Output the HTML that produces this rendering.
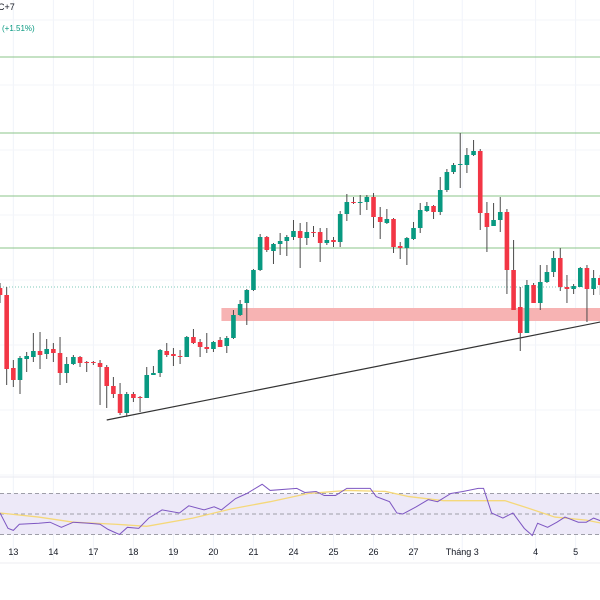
<!DOCTYPE html>
<html><head><meta charset="utf-8"><style>
html,body{margin:0;padding:0;background:#fff;}
svg{display:block;font-family:"Liberation Sans","Noto Sans CJK JP",sans-serif;}
</style></head><body>
<svg id="chart" width="600" height="600" viewBox="0 0 600 600" xmlns="http://www.w3.org/2000/svg">
<rect width="600" height="600" fill="#fff"/>
<g id="grid"></g>
<g id="levels"></g>
<g id="candles"></g>
<g id="rsi"></g>
<g id="axis"></g>
<text x="-2" y="10" font-size="9" fill="#131722">C+7</text>
<text x="2" y="31" font-size="8" fill="#089981">(+1.51%)</text>
</svg>
<script>
const opens  = [712,705,632,620,641,643,649,646,651,647,627,636,643,638,638,637,633,614,606,587,606,603,602,625,627,649,646,644,643,663,658,653,651,660,654,662,685,697,710,730,763,749,756,759,763,769,762,768,768,757,760,758,786,798,797,798,803,783,777,781,754,752,761,772,789,794,788,810,828,835,835,845,849,787,774,780,788,730,693,667,715,697,718,728,742,713,711,713,732,711,722];
const highs  = [717,713,640,644,648,667,668,661,657,663,643,645,644,639,639,640,635,623,617,608,608,604,633,634,651,657,652,650,664,671,661,667,659,663,664,690,700,711,731,766,764,757,767,765,780,777,778,774,772,772,763,789,806,803,805,805,807,793,791,782,758,763,778,797,798,795,823,831,837,867,852,860,851,798,797,803,791,760,713,720,717,735,735,749,752,725,716,733,735,730,725];
const lows   = [697,615,613,606,628,638,631,641,638,615,617,635,633,628,635,595,592,602,585,583,598,588,602,625,623,643,634,636,643,656,643,647,648,653,647,661,684,675,709,729,748,736,745,744,760,732,755,763,738,755,753,753,779,796,785,790,772,761,776,747,741,735,760,767,788,781,785,808,826,812,827,844,770,748,774,768,706,690,649,667,697,690,717,723,709,697,706,713,678,705,705];
const closes = [705,631,620,642,644,649,645,651,647,627,636,643,637,637,637,633,614,606,587,606,602,602,625,627,650,645,644,643,663,657,653,651,658,653,662,685,696,710,730,763,750,756,759,763,769,762,768,767,757,760,758,786,798,797,798,803,783,778,781,753,752,762,772,790,794,788,810,828,835,836,845,849,787,773,780,788,730,690,667,715,697,718,728,742,713,711,714,732,711,722,715];
const levelPrices = [943,867,804,752];
const dottedLevel = [713];
const zoneBand = [692,679];
const zoneStartIdx = [33.2];
const trendStart = [16, 580];
const trendEnd = [90, 678];
const dateLabels = ["13","14","17","18","19","20","21","24","25","26","27","Tháng 3","4","5"];
const dateIdx = [2,8,14,20,26,32,38,44,50,56,62,69.3,80.3,86.3];
const rsiT = [0,1.2,2,2.9,5.8,7.5,9.2,11,13.3,15,16.2,17.9,19.1,20.8,22.3,24.3,26.9,28.3,30.6,32.1,33.2,35.3,37,39.3,40.5,44.5,45.7,47.4,48.6,50.3,52,55.5,56.4,58.4,59.5,60.4,62.4,64.2,65.6,67.6,69.4,71.7,72.5,73.7,75.4,76.9,78.6,79.8,80.6,82.1,83.5,84.7,86.7,87.9,89,90.2];
const rsiV = [51,36,34,40,41,42,37,42,41,40,35,30,37,36,46,54,51,58,54,57,54,65,70,79,73,75,71,72,68,68,75,75,67,62,51,50,57,64,62,70,72,75,75,51,46,51,36,29,41,37,42,47,42,42,46,43];
const maT = [0,5.8,11,17.3,22,28.9,34.7,40.5,46.2,52,57.8,61.3,66.5,69.4,75.7,78.6,83.2,87.9,90.2];
const maV = [51,47,42,40,38,46,55,62,70,73,72,67,63,63,63,57,47,44,41];

const svgNS = "http://www.w3.org/2000/svg";
const step = 6.67;
const xScale = i => i * step;
const yScale = p => (1000 - p);
const rsiY = v => 514 - (v - 50) * 1.025;
function mk(tag, attrs, parent) {
  const e = document.createElementNS(svgNS, tag);
  for (const k in attrs) e.setAttribute(k, attrs[k]);
  parent.appendChild(e);
  return e;
}
const grid = document.getElementById('grid');
dateIdx.forEach((d, i) => {
  const l = mk('line', {x1: xScale(d), x2: xScale(d), y1: 0, y2: 560, stroke: '#f0f3fa', 'stroke-width': 1}, grid);
  
  
});
[20, 85, 150, 215, 280, 345, 410, 475].forEach(y => {
  const l = mk('line', {x1: 0, x2: 600, y1: y, y2: y, stroke: '#f3f5fa', 'stroke-width': 1}, grid);
  
  
});
const lv = document.getElementById('levels');
levelPrices.forEach(p => {
  const l = mk('line', {x1: 0, x2: 600, y1: yScale(p), y2: yScale(p), stroke: '#8bc48a', 'stroke-width': 1}, lv);
  
  
});
dottedLevel.forEach(p => {
  const l = mk('line', {x1: 0, x2: 600, y1: yScale(p), y2: yScale(p), stroke: '#7fc9b8', 'stroke-width': 1, 'stroke-dasharray': '1 2'}, lv);
  
  
});
const zone = mk('rect', {x: xScale(zoneStartIdx[0]), y: yScale(zoneBand[0]), width: 600 - xScale(zoneStartIdx[0]), height: yScale(zoneBand[1]) - yScale(zoneBand[0]), fill: '#f7b3b3'}, lv);


const tl = mk('line', {x1: xScale(trendStart[0]), y1: yScale(trendStart[1]), x2: xScale(trendEnd[0]), y2: yScale(trendEnd[1]), stroke: '#333', 'stroke-width': 1.2}, lv);



const cg = document.getElementById('candles');
opens.forEach((o, i) => {
  const c = closes[i], up = c >= o;
  const col = up ? '#089981' : '#f23645';
  const x = xScale(i);
  const g = mk('g', {}, cg);
  
  
  mk('line', {x1: x, x2: x, y1: yScale(highs[i]), y2: yScale(lows[i]), stroke: '#4a4a4a', 'stroke-width': 1}, g);
  const top = yScale(Math.max(o, c)), bot = yScale(Math.min(o, c));
  mk('rect', {x: x - 2.3, y: top, width: 4.6, height: Math.max(1, bot - top), fill: col}, g);
});

const rg = document.getElementById('rsi');
const sep = mk('line', {x1: 0, x2: 600, y1: 477, y2: 477, stroke: '#e8eaf0', 'stroke-width': 1}, rg);


const band = mk('rect', {x: 0, y: rsiY(70), width: 600, height: rsiY(30) - rsiY(70), fill: '#ede9f8'}, rg);


[70, 50, 30].forEach(v => {
  const l = mk('line', {x1: 0, x2: 600, y1: rsiY(v), y2: rsiY(v), stroke: '#9e9ea8', 'stroke-width': 1, 'stroke-dasharray': '4 3'}, rg);
  
  
});
const ma = mk('polyline', {points: maT.map((t, i) => xScale(t) + ',' + rsiY(maV[i])).join(' '), fill: 'none', stroke: '#f5d87a', 'stroke-width': 1.3}, rg);


const rl = mk('polyline', {points: rsiT.map((t, i) => xScale(t) + ',' + rsiY(rsiV[i])).join(' '), fill: 'none', stroke: '#7e57c2', 'stroke-width': 1}, rg);



const ax = document.getElementById('axis');
const axl = mk('line', {x1: 0, x2: 600, y1: 563, y2: 563, stroke: '#eceef2', 'stroke-width': 1}, ax);


dateLabels.forEach((t, i) => {
  const e = mk('text', {x: xScale(dateIdx[i]), y: 555, 'font-size': 9, fill: '#131722', 'text-anchor': 'middle'}, ax);
  e.textContent = t;
  
  
});
</script>
</body></html>
